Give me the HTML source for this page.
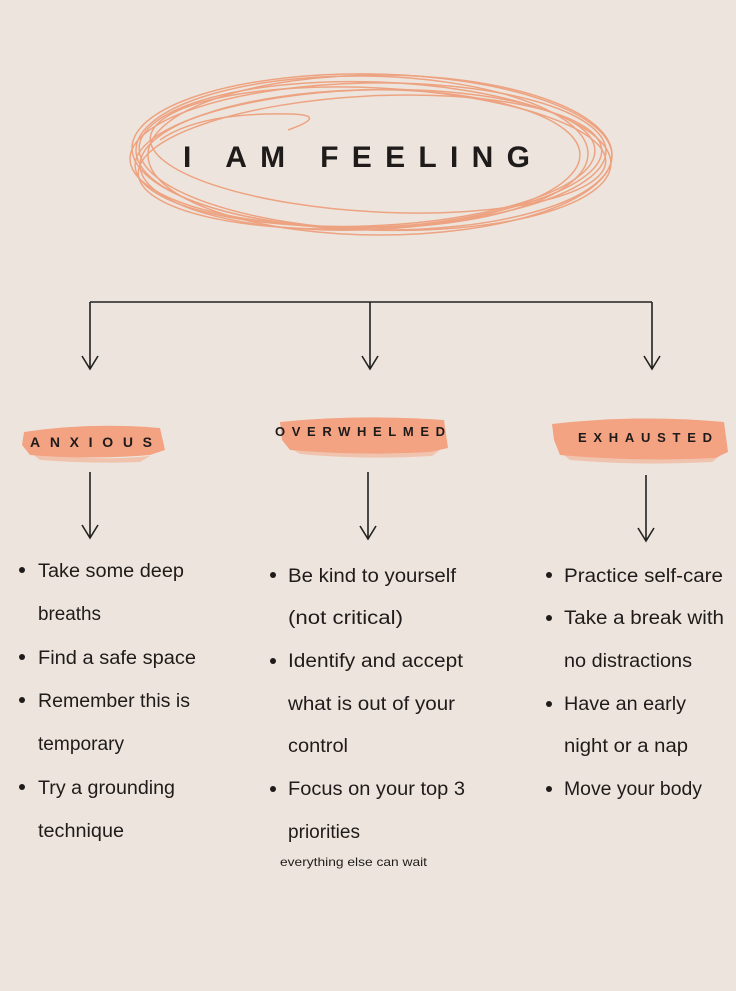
<!DOCTYPE html>
<html><head><meta charset="utf-8"><style>
html,body{margin:0;padding:0;background:#ede5dd;}
svg{display:block}
text{font-family:"Liberation Sans Narrow","Liberation Sans",sans-serif;fill:#1f1b1a}
</style></head><body>
<svg width="736" height="991" viewBox="0 0 736 991">
<rect width="736" height="991" fill="#ede5dd"/>
<g fill="none" stroke="#ee9c78" stroke-width="1.5" opacity="0.9">
<ellipse cx="368" cy="155" rx="238" ry="72" transform="rotate(-1 368 155)"/>
<ellipse cx="372" cy="152" rx="240" ry="78" transform="rotate(1 372 152)"/>
<ellipse cx="365" cy="158" rx="230" ry="68" transform="rotate(-2 365 158)"/>
<ellipse cx="375" cy="156" rx="236" ry="74" transform="rotate(2 375 156)"/>
<ellipse cx="362" cy="152" rx="226" ry="76" transform="rotate(0.5 362 152)"/>
<ellipse cx="370" cy="162" rx="232" ry="66" transform="rotate(-3 370 162)"/>
<ellipse cx="378" cy="150" rx="228" ry="62" transform="rotate(3 378 150)"/>
<ellipse cx="360" cy="160" rx="220" ry="70" transform="rotate(-1.5 360 160)"/>
<ellipse cx="380" cy="155" rx="232" ry="80" transform="rotate(0 380 155)"/>
<path d="M160 140 Q200 112 290 114 Q330 115 288 130"/>
</g>
<text x="183" y="167" font-size="30" font-weight="bold" textLength="347" lengthAdjust="spacing">I AM FEELING</text>
<g fill="none" stroke="#222" stroke-width="1.6">
<path d="M90 302 H652"/>
<path d="M90 302 V368 M82 356 L90 369 L98 356"/>
<path d="M370 302 V368 M362 356 L370 369 L378 356"/>
<path d="M652 302 V368 M644 356 L652 369 L660 356"/>
<path d="M90 472 V537 M82 525 L90 538 L98 525"/>
<path d="M368 472 V538 M360 526 L368 539 L376 526"/>
<path d="M646 475 V540 M638 528 L646 541 L654 528"/>
</g>
<g fill="#f3a282">
<path d="M24 432 Q90 422 160 428 L165 450 L150 455 Q90 460 30 455 L22 445 Z"/>
<path d="M280 422 Q360 414 444 420 L448 448 L430 452 Q360 456 290 450 L282 440 Z"/>
<path d="M552 424 Q640 414 724 422 L728 452 L715 458 Q640 462 560 455 L554 440 Z"/>
</g>
<g fill="#f3a282" opacity="0.5">
<path d="M30 452 Q90 462 150 456 L140 462 Q90 464 40 460 Z"/>
<path d="M290 448 Q360 458 440 450 L432 456 Q360 460 300 454 Z"/>
<path d="M560 452 Q640 464 720 456 L712 462 Q640 466 570 460 Z"/>
</g>
<text x="30" y="447" font-size="14" font-weight="bold" textLength="122" lengthAdjust="spacing">ANXIOUS</text>
<text x="275" y="436" font-size="13" font-weight="bold" textLength="170" lengthAdjust="spacing">OVERWHELMED</text>
<text x="578" y="442" font-size="13" font-weight="bold" textLength="134" lengthAdjust="spacing">EXHAUSTED</text>
<g fill="#1f1b1a">
<circle cx="22" cy="570" r="3"/><circle cx="22" cy="657" r="3"/><circle cx="22" cy="700" r="3"/><circle cx="22" cy="787" r="3"/>
<circle cx="273" cy="575" r="3"/><circle cx="273" cy="661" r="3"/><circle cx="273" cy="789" r="3"/>
<circle cx="549" cy="575" r="3"/><circle cx="549" cy="618" r="3"/><circle cx="549" cy="704" r="3"/><circle cx="549" cy="789" r="3"/>
</g>
<g font-size="19">
<text x="38" y="577" textLength="146" lengthAdjust="spacingAndGlyphs">Take some deep</text>
<text x="38" y="620" textLength="63" lengthAdjust="spacingAndGlyphs">breaths</text>
<text x="38" y="664" textLength="158" lengthAdjust="spacingAndGlyphs">Find a safe space</text>
<text x="38" y="707" textLength="152" lengthAdjust="spacingAndGlyphs">Remember this is</text>
<text x="38" y="750" textLength="86" lengthAdjust="spacingAndGlyphs">temporary</text>
<text x="38" y="794" textLength="137" lengthAdjust="spacingAndGlyphs">Try a grounding</text>
<text x="38" y="837" textLength="86" lengthAdjust="spacingAndGlyphs">technique</text>
<text x="288" y="582" textLength="168" lengthAdjust="spacingAndGlyphs">Be kind to yourself</text>
<text x="288" y="624" textLength="115" lengthAdjust="spacingAndGlyphs">(not critical)</text>
<text x="288" y="667" textLength="175" lengthAdjust="spacingAndGlyphs">Identify and accept</text>
<text x="288" y="710" textLength="167" lengthAdjust="spacingAndGlyphs">what is out of your</text>
<text x="288" y="752" textLength="60" lengthAdjust="spacingAndGlyphs">control</text>
<text x="288" y="795" textLength="177" lengthAdjust="spacingAndGlyphs">Focus on your top 3</text>
<text x="288" y="838" textLength="72" lengthAdjust="spacingAndGlyphs">priorities</text>
<text x="564" y="582" textLength="159" lengthAdjust="spacingAndGlyphs">Practice self-care</text>
<text x="564" y="624" textLength="160" lengthAdjust="spacingAndGlyphs">Take a break with</text>
<text x="564" y="667" textLength="128" lengthAdjust="spacingAndGlyphs">no distractions</text>
<text x="564" y="710" textLength="122" lengthAdjust="spacingAndGlyphs">Have an early</text>
<text x="564" y="752" textLength="124" lengthAdjust="spacingAndGlyphs">night or a nap</text>
<text x="564" y="795" textLength="138" lengthAdjust="spacingAndGlyphs">Move your body</text>
</g>
<text x="280" y="866" font-size="12" textLength="147" lengthAdjust="spacingAndGlyphs">everything else can wait</text>
</svg>
</body></html>
